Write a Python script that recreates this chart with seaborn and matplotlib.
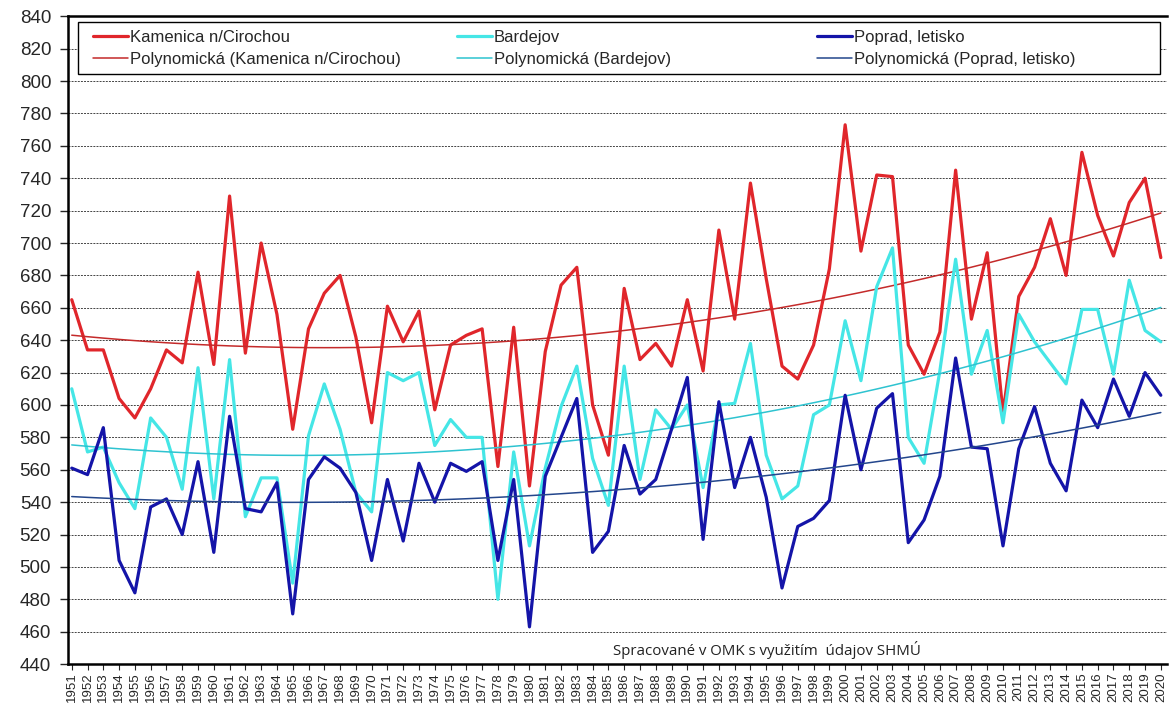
import numpy as np
import pandas as pd
import matplotlib
matplotlib.use("Agg")
import matplotlib.pyplot as plt
import matplotlib.font_manager as fm
from matplotlib.patches import Rectangle
import seaborn as sns

years = list(range(1951, 2021))

kamenica = [665, 634, 634, 604, 592, 610, 634, 626, 682, 625,
            729, 632, 700, 656, 585, 647, 669, 680, 642, 589,
            661, 639, 658, 597, 637, 643, 647, 562, 648, 550,
            633, 674, 685, 600, 569, 672, 628, 638, 624, 665,
            621, 708, 653, 737, 678, 624, 616, 637, 684, 773,
            695, 742, 741, 637, 619, 645, 745, 653, 694, 595,
            667, 685, 715, 680, 756, 717, 692, 725, 740, 691]

bardejov = [610, 571, 574, 552, 536, 592, 580, 548, 623, 542,
            628, 531, 555, 555, 490, 581, 613, 585, 546, 534,
            620, 615, 620, 575, 591, 580, 580, 480, 571, 513,
            561, 599, 624, 567, 538, 624, 554, 597, 585, 600,
            549, 600, 601, 638, 569, 542, 550, 594, 600, 652,
            615, 673, 697, 580, 564, 621, 690, 619, 646, 589,
            656, 639, 626, 613, 659, 659, 619, 677, 646, 639]

poprad = [561, 557, 586, 504, 484, 537, 542, 520, 565, 509,
          593, 536, 534, 552, 471, 554, 568, 561, 546, 504,
          554, 516, 564, 540, 564, 559, 565, 504, 554, 463,
          556, 580, 604, 509, 522, 575, 545, 554, 585, 617,
          517, 602, 549, 580, 543, 487, 525, 530, 541, 606,
          560, 598, 607, 515, 529, 556, 629, 574, 573, 513,
          573, 599, 564, 547, 603, 586, 616, 593, 620, 606]

names = ["Kamenica n/Cirochou", "Bardejov", "Poprad, letisko"]
colors = ["#E0262B", "#45E6E6", "#1414A8"]
trend_colors = ["#C42A2A", "#2EC3D0", "#23468C"]
note = "Spracované v OMK s využitím  údajov SHMÚ"

yr = np.array(years)
df = pd.DataFrame({"rok": years, names[0]: kamenica, names[1]: bardejov, names[2]: poprad})

sns.set_style("white")
available = {f.name for f in fm.fontManager.ttflist}
narrow = "Liberation Sans Narrow" if "Liberation Sans Narrow" in available else "Liberation Sans"
plt.rcParams["font.family"] = ["Liberation Sans", "DejaVu Sans"]

fig = plt.figure(figsize=(11.69, 7.08), dpi=100)
ax = fig.add_axes([0.058, 0.062, 0.94, 0.915])

pairs = []
for name, col, tcol in zip(names, colors, trend_colors):
    sns.lineplot(data=df, x="rok", y=name, color=col, linewidth=2.3, ax=ax, label=name)
    h_data = ax.get_lines()[-1]
    # polynomial (2nd order) trend like the spreadsheet trendline
    coef = np.polyfit(yr - 1950, df[name].values, 2)
    trend = np.polyval(coef, yr - 1950)
    sns.lineplot(x=yr, y=trend, color=tcol, linewidth=1.1, ax=ax,
                 label="Polynomická (" + name + ")")
    h_trend = ax.get_lines()[-1]
    pairs.append((h_data, h_trend))

if ax.get_legend() is not None:
    ax.get_legend().remove()

ax.set_xlim(1950.75, 2020.37)
ax.set_ylim(440, 840)
ax.set_yticks(range(440, 841, 20))
ax.set_xticks(years)
ax.set_xticklabels([str(y) for y in years], rotation=90, fontsize=9.5, family=[narrow, "DejaVu Sans"])
ax.tick_params(axis="y", labelsize=13.5, length=6, width=1, direction="out", left=True, pad=6)
ax.tick_params(axis="x", length=4, width=0.8, direction="out", bottom=True, pad=2)
ax.set_xlabel("")
ax.set_ylabel("")

for yv in range(460, 840, 20):
    ax.axhline(yv, color="#444444", linewidth=0.7, linestyle=(0, (2, 1.2)), zorder=0)

for s in ["left", "bottom", "top"]:
    ax.spines[s].set_color("black")
    ax.spines[s].set_linewidth(1.8)
ax.spines["right"].set_visible(False)

# legend frame
ax.add_patch(Rectangle((0.0093, 0.9105), 0.9846, 0.0802, transform=ax.transAxes,
                       facecolor="white", edgecolor="black", linewidth=1.0, zorder=4))

legends = []
for (h_data, h_trend), xpos in zip(pairs, [0.0229, 0.3542, 0.6818]):
    leg = ax.legend(handles=[h_data, h_trend], labels=[h_data.get_label(), h_trend.get_label()],
                    loc="upper left", bbox_to_anchor=(xpos, 0.979), frameon=False,
                    fontsize=12, handlelength=2.1, handletextpad=0.1, borderpad=0,
                    borderaxespad=0, labelspacing=0.42)
    leg.set_zorder(5)
    legends.append(leg)
for leg in legends[:-1]:
    ax.add_artist(leg)

ax.text(1985.3, 449, note, fontsize=10.8, family=["Open Sans", "DejaVu Sans"],
        ha="left", va="center", color="#222222")

fig.savefig("out.png", dpi=100)
